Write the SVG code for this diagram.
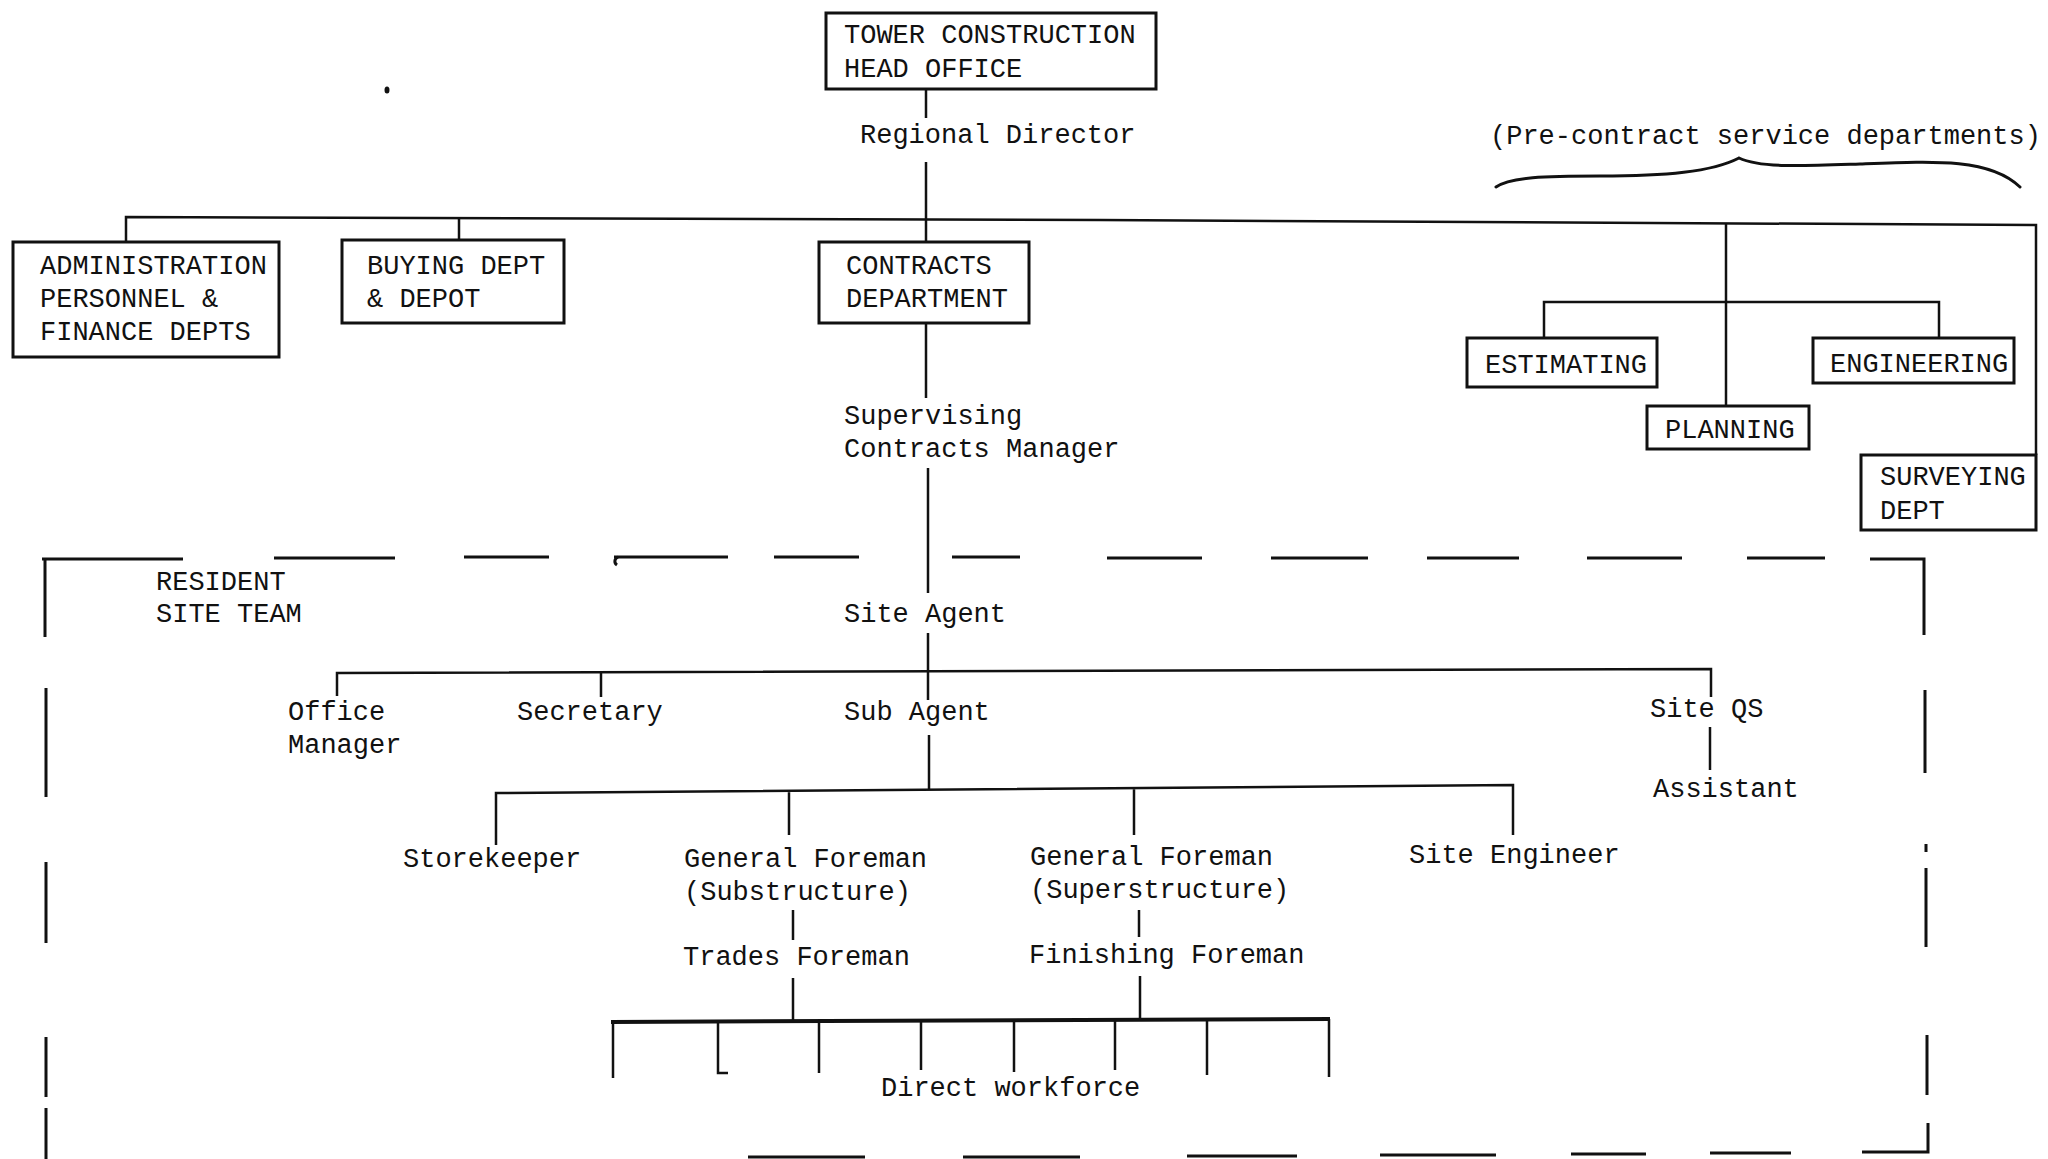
<svg xmlns="http://www.w3.org/2000/svg" width="2048" height="1159" viewBox="0 0 2048 1159">
<style>
.t{font-family:"Liberation Mono","DejaVu Sans Mono",monospace;font-size:27px;fill:#111}
.box{fill:none;stroke:#111;stroke-width:3}
.ln{fill:none;stroke:#111;stroke-width:2.5}
.bd{fill:none;stroke:#111;stroke-width:3}
</style>
<rect width="2048" height="1159" fill="#fff"/>
<g id="connectors">
<path class="ln" d="M926 89V118M926 162V242"/>
<path class="ln" d="M126 242V217L1100 220L2036 225V455"/>
<path class="ln" d="M459 218V240"/>
<path class="ln" d="M1726 223V406"/>
<path class="ln" d="M1544 338V302H1939V338"/>
<path class="ln" d="M926 323V398M928 468V593M928 633V700"/>
<path class="ln" d="M337 696V673L1711 669V697M601 673V697"/>
<path class="ln" d="M1710 727V770"/>
<path class="ln" d="M929 735V790"/>
<path class="ln" d="M496 845V793L1513 785V835M789 792V835M1134 788V835"/>
<path class="ln" d="M793 910V940M1139 910V937M793 978V1020M1140 976V1019"/>
<path fill="none" stroke="#111" stroke-width="4" d="M611 1022L1330 1019"/>
<path class="ln" d="M613 1022V1078M718 1022V1073H728M819 1021V1073M921 1021V1070M1014 1020V1072M1115 1020V1070M1207 1020V1075M1329 1019V1077"/>
<path fill="none" stroke="#111" stroke-width="3" stroke-linecap="round" d="M1496 187C1510 177 1545 176 1600 176C1665 176 1712 172 1739 158C1760 168 1800 166 1860 164C1935 161 1990 158 2020 187"/>
</g>
<g id="boundary">
<path class="bd" d="M42 559H183M274 558H395M464 557H549M614 557H728M774 557H859M952 557H1020M1107 558H1202M1271 558H1368M1427 558H1519M1587 558H1682M1747 558H1825M1870 559H1924V635"/>
<path class="bd" d="M618 557C614 559 614 563 617 565"/>
<path class="bd" d="M45 560V637M46 688V797M46 862V943M46 1037V1097M46 1108V1159"/>
<path class="bd" d="M1925 690V773M1926 844V852M1926 868V947M1927 1035V1095M1928 1123V1152H1862M1791 1153H1710M1646 1154H1571M1496 1155H1380M1297 1156H1187M1080 1157H963M865 1157H748"/>
<ellipse cx="387" cy="90" rx="2.5" ry="3.5" fill="#111"/>
</g>
<g id="head-office">
<rect class="box" x="826" y="13" width="330" height="76"/>
<text class="t" x="844" y="43">TOWER CONSTRUCTION</text>
<text class="t" x="844" y="77">HEAD OFFICE</text>
</g>
<g id="regional-director"><text class="t" x="860" y="143">Regional Director</text></g>
<g id="admin">
<rect class="box" x="13" y="242" width="266" height="115"/>
<text class="t" x="40" y="274">ADMINISTRATION</text>
<text class="t" x="40" y="307">PERSONNEL &amp;</text>
<text class="t" x="40" y="340">FINANCE DEPTS</text>
</g>
<g id="buying">
<rect class="box" x="342" y="240" width="222" height="83"/>
<text class="t" x="367" y="274">BUYING DEPT</text>
<text class="t" x="367" y="307">&amp; DEPOT</text>
</g>
<g id="contracts">
<rect class="box" x="819" y="242" width="210" height="81"/>
<text class="t" x="846" y="274">CONTRACTS</text>
<text class="t" x="846" y="307">DEPARTMENT</text>
</g>
<g id="supervising">
<text class="t" x="844" y="424">Supervising</text>
<text class="t" x="844" y="457">Contracts Manager</text>
</g>
<g id="pre-contract"><text class="t" x="1490" y="144">(Pre-contract service departments)</text></g>
<g id="estimating">
<rect class="box" x="1467" y="338" width="190" height="49"/>
<text class="t" x="1485" y="373">ESTIMATING</text>
</g>
<g id="engineering">
<rect class="box" x="1813" y="338" width="201" height="45"/>
<text class="t" x="1830" y="372">ENGINEERING</text>
</g>
<g id="planning">
<rect class="box" x="1647" y="406" width="162" height="43"/>
<text class="t" x="1665" y="438">PLANNING</text>
</g>
<g id="surveying">
<rect class="box" x="1861" y="455" width="175" height="75"/>
<text class="t" x="1880" y="485">SURVEYING</text>
<text class="t" x="1880" y="519">DEPT</text>
</g>
<g id="resident-site-team">
<text class="t" x="156" y="590">RESIDENT</text>
<text class="t" x="156" y="622">SITE TEAM</text>
</g>
<g id="site-agent"><text class="t" x="844" y="622">Site Agent</text></g>
<g id="office-manager">
<text class="t" x="288" y="720">Office</text>
<text class="t" x="288" y="753">Manager</text>
</g>
<g id="secretary"><text class="t" x="517" y="720">Secretary</text></g>
<g id="sub-agent"><text class="t" x="844" y="720">Sub Agent</text></g>
<g id="site-qs"><text class="t" x="1650" y="717">Site QS</text></g>
<g id="assistant"><text class="t" x="1653" y="797">Assistant</text></g>
<g id="storekeeper"><text class="t" x="403" y="867">Storekeeper</text></g>
<g id="gf-sub">
<text class="t" x="684" y="867">General Foreman</text>
<text class="t" x="684" y="900">(Substructure)</text>
</g>
<g id="gf-super">
<text class="t" x="1030" y="865">General Foreman</text>
<text class="t" x="1030" y="898">(Superstructure)</text>
</g>
<g id="site-engineer"><text class="t" x="1409" y="863">Site Engineer</text></g>
<g id="trades-foreman"><text class="t" x="683" y="965">Trades Foreman</text></g>
<g id="finishing-foreman"><text class="t" x="1029" y="963">Finishing Foreman</text></g>
<g id="direct-workforce"><text class="t" x="881" y="1096">Direct workforce</text></g>
</svg>
